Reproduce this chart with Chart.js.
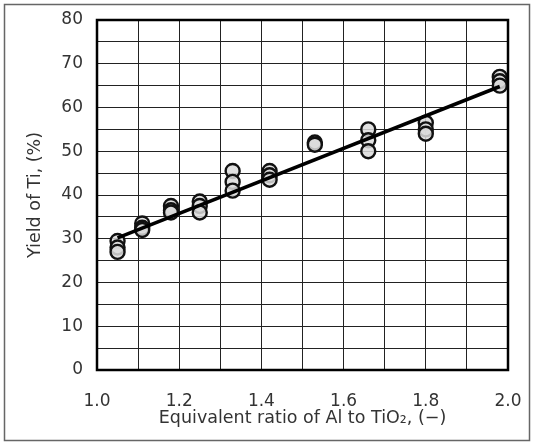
<!DOCTYPE html>
<html>
<head>
<meta charset="utf-8">
<script src="https://cdn.jsdelivr.net/npm/chart.js@4"></script>
<style>
html,body{margin:0;padding:0;background:#fff;}
#wrap{width:533px;height:445px;position:relative;}
</style>
</head>
<body>
<div id="wrap"><canvas id="c" width="533" height="445"></canvas></div>
<script>
// Data
const ratioX = [1.05,1.05,1.05, 1.11,1.11,1.11, 1.18,1.18,1.18, 1.25,1.25,1.25, 1.33,1.33,1.33, 1.42,1.42,1.42, 1.53,1.53, 1.66,1.66,1.66, 1.80,1.80,1.80, 1.98,1.98,1.98];
const yieldTi = [29.5,28,27, 33.5,32.5,32, 37.5,36.5,36, 38.5,37.5,36, 45.5,43,41, 45.5,44.5,43.5, 52,51.5, 55,52.5,50, 56.5,55,54, 67,66,65];
const fitX = [1.05, 1.98];
const fitY = [30.2, 64.8];
const xTickLabels = ['1.0','1.2','1.4','1.6','1.8','2.0'];
const yTickLabels = ['0','10','20','30','40','50','60','70','80'];

const framePlugin = {
  id: 'frame',
  afterDraw(chart) {
    const ctx = chart.ctx;
    ctx.save();
    ctx.strokeStyle = '#666';
    ctx.lineWidth = 1.5;
    ctx.strokeRect(4.5, 4.5, 525, 436);
    const a = chart.chartArea;
    ctx.strokeStyle = '#000';
    ctx.lineWidth = 2.5;
    ctx.strokeRect(a.left, a.top, a.right - a.left, a.bottom - a.top);
    ctx.restore();
  }
};

const font = "'DejaVu Sans', Verdana, sans-serif";
new Chart(document.getElementById('c'), {
  type: 'scatter',
  data: {
    datasets: [
      {
        type: 'line',
        data: fitX.map((x, i) => ({x, y: fitY[i]})),
        borderColor: '#000',
        borderWidth: 3.5,
        pointRadius: 0,
        fill: false,
        order: 0
      },
      {
        data: ratioX.map((x, i) => ({x, y: yieldTi[i]})),
        backgroundColor: 'rgba(220,220,220,0.85)',
        borderColor: '#111',
        borderWidth: 2.4,
        pointRadius: 7,
        order: 1
      }
    ]
  },
  options: {
    responsive: false,
    animation: false,
    layout: {padding: {top: 20, right: 25, left: 0, bottom: 0}},
    plugins: {legend: {display: false}, tooltip: {enabled: false}},
    scales: {
      x: {
        type: 'linear', min: 1.0, max: 2.0,
        afterFit: s => { s.height = 75; s.paddingLeft = 0; s.paddingRight = 0; },
        border: {display: false},
        grid: {color: '#222', lineWidth: 1, drawTicks: false},
        ticks: {
          stepSize: 0.1, padding: 21, color: '#333', maxRotation: 0, autoSkip: false,
          font: {family: font, size: 17},
          callback: (v) => {
            const k = Math.round(v * 10);
            return k % 2 === 0 ? xTickLabels[(k - 10) / 2] : '';
          }
        },
        title: {display: true, text: 'Equivalent ratio of Al to TiO₂, (−)', color: '#333',
          font: {family: font, size: 17.5}, padding: {top: 0, bottom: 16}}
      },
      y: {
        min: 0, max: 80,
        afterFit: s => { s.width = 97; s.paddingTop = 0; s.paddingBottom = 0; },
        border: {display: false},
        grid: {color: '#222', lineWidth: 1, drawTicks: false},
        ticks: {
          stepSize: 5, padding: 14, color: '#333', autoSkip: false,
          font: {family: font, size: 17},
          callback: (v) => (v % 10 === 0 ? yTickLabels[v / 10] : '')
        },
        title: {display: true, text: 'Yield of Ti, (%)', color: '#333',
          font: {family: font, size: 17.5}, padding: {top: 25, bottom: 0}}
      }
    }
  },
  plugins: [framePlugin]
});
</script>
</body>
</html>
